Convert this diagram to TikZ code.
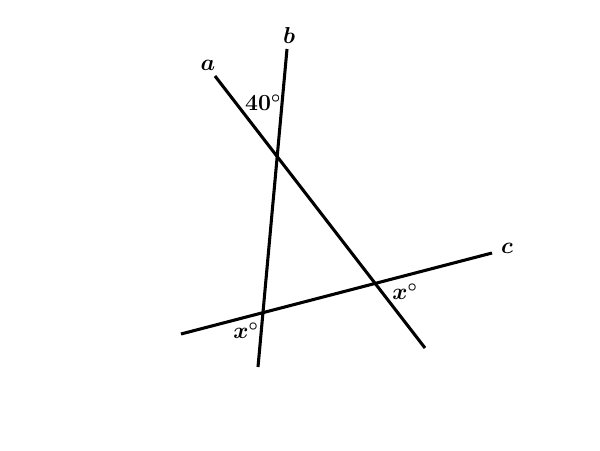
\documentclass[tikz,border=0pt]{standalone}
\usepackage{amsmath}
\tikzset{every picture/.style={line width=2.3pt}}
\tikzset{lbl/.style={inner sep=0.75pt,font=\fontsize{17}{19}\selectfont\boldmath}}

\begin{document}
\begin{tikzpicture}[x=0.75pt,y=0.75pt,yscale=-1,xscale=1]
\useasboundingbox (0,0) rectangle (600,450);

% End points of the lines
\coordinate (aTop) at (215,76);
\coordinate (aBot) at (425,348);
\coordinate (bTop) at (287,49);
\coordinate (bBot) at (258,367);
\coordinate (cLeft) at (181,334);
\coordinate (cRight) at (492,253);

%Straight Lines a
\draw    (aTop) -- (aBot) ;
%Straight Lines b
\draw    (bTop) -- (bBot) ;
%Straight Lines c
\draw    (cLeft) -- (cRight) ;

% Text Node
\node [lbl] (la) at (208,65) {$a$};
% Text Node
\node [lbl] (lb) at (289,35) {$b$};
% Text Node
\node [lbl] (lc) at (507,248) {$c$};
% Text Node
\node [lbl] (ang40) at (263,103) {$40^{\circ}$};
% Text Node
\node [lbl] (angxR) at (405,292) {$x^{\circ}$};
% Text Node
\node [lbl] (angxL) at (246,331) {$x^{\circ}$};

\end{tikzpicture}
\end{document}
